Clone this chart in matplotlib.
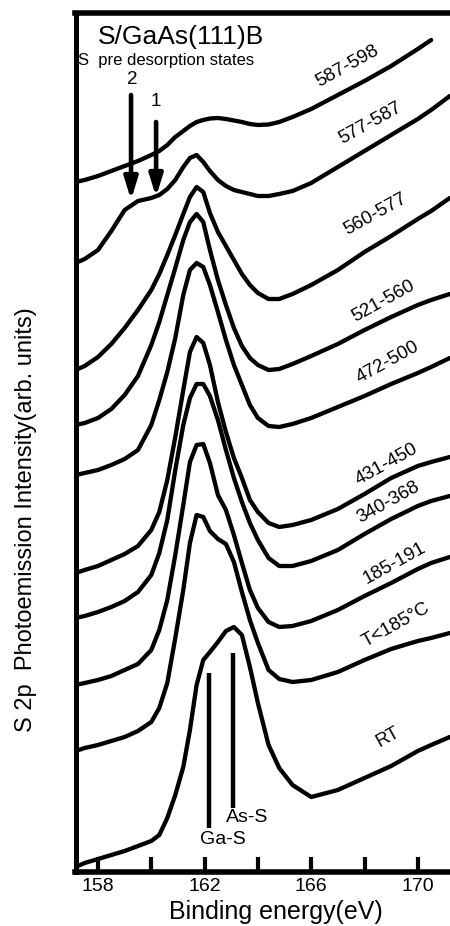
import numpy as np
import matplotlib
matplotlib.use("Agg")
import matplotlib.pyplot as plt

plt.rcParams['font.family'] = ['Liberation Sans', 'DejaVu Sans']

# Binding energy grid (eV)
energy = [157.16, 157.5, 158.0, 158.5, 159.0, 159.5, 160.0, 160.3, 160.6, 160.9,
          161.2, 161.45, 161.7, 161.95, 162.2, 162.5, 162.8, 163.1, 163.4, 163.7,
          164.0, 164.4, 164.8, 165.3, 166.0, 167.0, 168.0, 169.0, 170.0, 170.5, 171.2]

# Temperature ranges (labels), top to bottom
labels = ["587-598", "577-587", "560-577", "521-560", "472-500",
          "431-450", "340-368", "185-191", "T<185°C", "RT"]

# Offset intensities (arb. units)
s_587_598 = [690, 692, 696, 701, 706, 711, 717, 721, 727, 735, 741, 746, 750, 752, 753.5, 754,
             753, 751.5, 750, 748, 747, 747.5, 750, 755, 763, 777, 791, 806, 823, 832, np.nan]
s_577_587 = [609, 613, 622, 641, 662, 671, 674, 677, 683, 692, 705, 714, 717, 710, 701, 692,
             686, 682, 680, 678, 676, 676, 678, 681, 689, 705, 721, 737, 753, 762, 776]
s_560_577 = [502, 506, 515, 528, 544, 562, 582, 598, 617, 637, 658, 675, 685, 680, 659, 640,
             626, 612, 598, 587, 579, 573, 573, 578, 587, 602, 620, 636, 653, 661, 674]
s_521_560 = [447, 449, 454, 463, 477, 496, 527, 550, 577, 604, 632, 650, 658, 650, 622, 592,
             567, 544, 526, 514, 507, 502, 503, 508, 516, 528, 542, 555, 567, 572, 578]
s_472_500 = [397, 399, 402, 407, 413, 422, 447, 472, 500, 534, 577, 602, 609, 605, 587, 560,
             532, 507, 487, 467, 454, 446, 445, 448, 454, 465, 476, 488, 499, 505, 514]
s_431_450 = [299, 302, 306, 312, 318, 326, 342, 360, 392, 435, 482, 520, 535, 529, 507, 470,
             440, 414, 394, 372, 360, 349, 345, 347, 352, 363, 378, 394, 406, 410, 415]
s_340_368 = [254, 256, 260, 265, 271, 280, 297, 319, 352, 402, 447, 474, 488, 488, 476, 452,
             422, 394, 370, 349, 332, 314, 306, 306, 311, 322, 338, 353, 366, 371, 376]
s_185_191 = [187, 189, 192, 196, 202, 208, 222, 242, 272, 317, 367, 410, 427, 428, 409, 377,
             362, 337, 309, 282, 264, 250, 245, 246, 251, 262, 276, 289, 303, 309, 315]
s_below185 = [121, 124, 127, 131, 135, 141, 150, 164, 189, 234, 282, 329, 357, 355, 341, 333,
              328, 310, 280, 252, 229, 202, 193, 190, 192, 200, 212, 223, 231, 234, 239]
s_RT = [5, 9, 13, 17, 21, 26, 31, 37, 54, 77, 105, 142, 187, 212, 220, 230,
        241, 245, 237, 205, 169, 127, 104, 87, 75, 82, 94, 106, 121, 127, 135]

series = [s_587_598, s_577_587, s_560_577, s_521_560, s_472_500,
          s_431_450, s_340_368, s_185_191, s_below185, s_RT]

# Label anchor positions (energy, intensity) for each curve label
label_E = [167.34, 168.21, 168.39, 168.69, 168.88, 168.81, 168.88, 169.14, 169.18, 168.88]
label_I = [806, 749, 658, 571, 510, 408, 370, 309, 247, 135]

# Component markers (Ga-S, As-S)
comp_names = ["Ga-S", "As-S"]
comp_E = [162.15, 163.07]
comp_top = [199, 219]
comp_bottom = [44, 64]

# Desorption state arrows
arrow_names = ["2", "1"]
arrow_E = [159.24, 160.18]
arrow_top = [777, 750]
arrow_tip = [672, 675]

xticks = [158, 160, 162, 164, 166, 168, 170]
xticklabels = ["158", "", "162", "", "166", "", "170"]

fig = plt.figure(figsize=(4.5, 9.26), dpi=100)
ax = fig.add_axes([75.5 / 450, 54 / 926, 1 - 75.5 / 450, (872 - 12.5) / 926])
ax.set_xlim(157.156, 171.208)
ax.set_ylim(0, 859.5)

for s in series:
    ax.plot(energy, s, color='black', lw=3.1, solid_joinstyle='round', solid_capstyle='round')

for name, e, I in zip(labels, label_E, label_I):
    ax.text(e, I, name, rotation=29, ha='center', va='center', fontsize=13.5,
            rotation_mode='anchor')

for name, e, t, b in zip(comp_names, comp_E, comp_top, comp_bottom):
    ax.plot([e, e], [b, t], color='black', lw=3.2, solid_capstyle='butt')
ax.text(162.69, 32, "Ga-S", ha='center', va='center', fontsize=14)
ax.text(163.59, 55, "As-S", ha='center', va='center', fontsize=14)

for name, e, t, tip in zip(arrow_names, arrow_E, arrow_top, arrow_tip):
    ax.annotate("", xy=(e, tip), xytext=(e, t),
                arrowprops=dict(arrowstyle='-|>,head_length=1.3,head_width=0.4',
                                color='black', lw=3.3, shrinkA=0, shrinkB=0))
ax.text(159.28, 792, "2", ha='center', va='center', fontsize=13.5)
ax.text(160.18, 770, "1", ha='center', va='center', fontsize=13.5)

ax.text(158.0, 835, "S/GaAs(111)B", ha='left', va='center', fontsize=19)
ax.text(157.25, 811, "S  pre desorption states", ha='left', va='center', fontsize=12)

ax.set_xticks(xticks)
ax.set_xticklabels(xticklabels, fontsize=14)
ax.set_yticks([])
ax.tick_params(axis='x', direction='in', length=11, width=3, pad=4)
ax.spines['right'].set_visible(False)
ax.spines['left'].set_linewidth(3.6)
ax.spines['bottom'].set_linewidth(4)
ax.spines['top'].set_linewidth(4)

fig.text(276 / 450, 1 - 912 / 926, "Binding energy(eV)", ha='center', va='center', fontsize=18)
fig.text(26 / 450, 1 - 520 / 926, "S 2p  Photoemission Intensity(arb. units)",
         rotation=90, ha='center', va='center', fontsize=17)

fig.savefig("out.png", dpi=100)
